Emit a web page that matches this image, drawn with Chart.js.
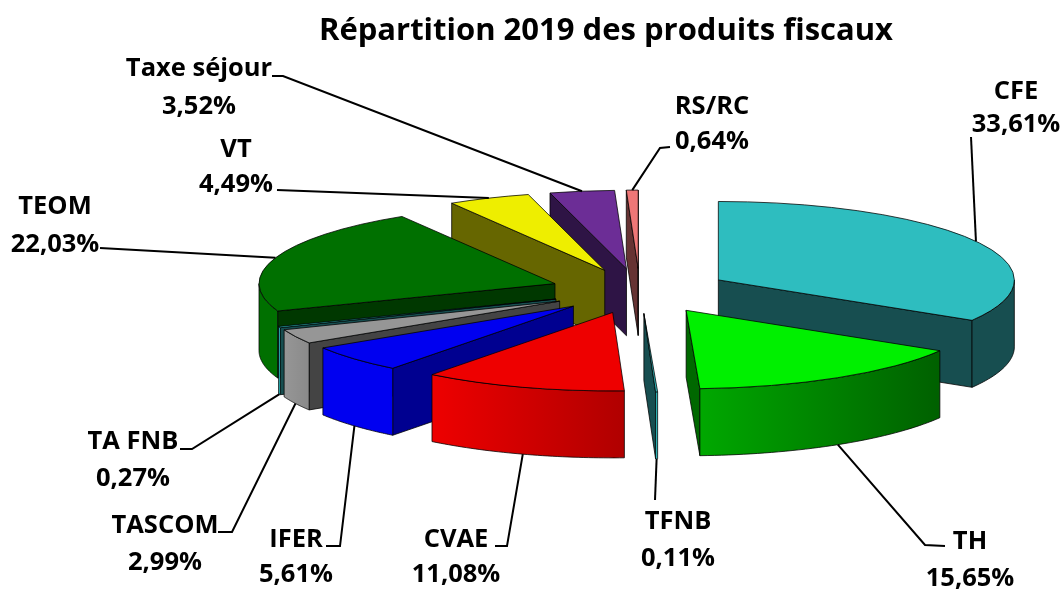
<!DOCTYPE html>
<html><head><meta charset="utf-8">
<style>html,body{margin:0;padding:0;background:#fff}#wrap{width:1064px;height:589px}</style>
<script src="https://cdn.jsdelivr.net/npm/chart.js@4/dist/chart.umd.min.js"></script>
</head><body><div id="wrap"><canvas id="c" width="1064" height="589"></canvas></div>
<script>
const categories = ['CFE','TH','TFNB','CVAE','IFER','TASCOM','TA FNB','TEOM','VT','Taxe séjour','RS/RC'];
const shares = [33.61,15.65,0.11,11.08,5.61,2.99,0.27,22.03,4.49,3.52,0.64];
const topColors = ['#2EBDBF','#00F000','#2EBDBF','#EE0000','#0000F0','#969696','#2EBDBF','#007000','#EEEE00','#6C2D96','#EE7777'];
const wallColors = ['#174E50','#006800','#174E50','#B00000','#000090','#444444','#174E50','#003800','#666600','#2E1445','#663333'];
const rimFrom = ['#174E50','#00A800','#2EBDBF','#EE0000','#0000F0','#969696','#2EBDBF','#007000','#666600','#2E1445','#663333'];
const rimTo   = ['#174E50','#006000','#2EBDBF','#B00000','#0000F0','#8A8A8A','#2EBDBF','#007000','#666600','#2E1445','#663333'];
const paintOrder = [10,9,8,7,6,5,4,0,1,2,3];
const labelPos = [[1016,99,132],[970,549,586],[678,529,566],[456,547,582],[296,547,582],[165,533,570],[133,449,486],[55,214,252],[236,157,192],[199,76,114],[712,114,149]];
const elbows = [[[971,137]],[[925,545],[945,546]],[[655,500]],[[507,546],[495,546]],[[340,546],[326,546]],[[232,532],[218,532]],[[192,449],[180,449]],[[100,248]],[[277,190]],[[283,76],[272,76]],[[660,148],[670,147]]];

const view = {cx:640, cy:291, k:0.265, kOffset:0.25, explode:90, depth:67};
const FONT = '"Open Sans", Lato, sans-serif';

const pie3d = {
  id:'pie3d',
  beforeDatasetDraw(chart,args){
    const ctx = chart.ctx, arcs = chart.getDatasetMeta(args.index).data;
    const {cx,cy,k,kOffset,explode,depth} = view;
    const geo = arcs.map(a=>{
      const mid=(a.startAngle+a.endAngle)/2;
      const ox=cx+Math.cos(mid)*explode, oy=cy+kOffset*Math.sin(mid)*explode;
      return {a,mid,ox,oy,R:a.outerRadius,
        pt:t=>[ox+a.outerRadius*Math.cos(t), oy+k*a.outerRadius*Math.sin(t)]};
    });
    ctx.save();
    ctx.lineJoin='round';
    ctx.strokeStyle='rgba(0,0,0,0.85)';
    ctx.lineWidth=0.9;
    const quad=(p,q,fill)=>{
      ctx.beginPath();
      ctx.moveTo(p[0],p[1]);ctx.lineTo(q[0],q[1]);
      ctx.lineTo(q[0],q[1]+depth);ctx.lineTo(p[0],p[1]+depth);ctx.closePath();
      ctx.fillStyle=fill;ctx.fill();ctx.stroke();
    };
    paintOrder.forEach(i=>{
      const g=geo[i],a=g.a,o=[g.ox,g.oy];
      if(Math.cos(a.startAngle)<0) quad(o,g.pt(a.startAngle),wallColors[i]);
      if(Math.cos(a.endAngle)>0) quad(o,g.pt(a.endAngle),wallColors[i]);
      const s=Math.max(a.startAngle,0),e=Math.min(a.endAngle,Math.PI);
      if(e>s){
        const p0=g.pt(s),p1=g.pt(e);
        const grad=ctx.createLinearGradient(Math.min(p0[0],p1[0]),0,Math.max(p0[0],p1[0]),0);
        grad.addColorStop(0,rimFrom[i]);grad.addColorStop(1,rimTo[i]);
        ctx.beginPath();
        ctx.moveTo(p0[0],p0[1]);
        const steps=40;
        for(let j=1;j<=steps;j++){const p=g.pt(s+(e-s)*j/steps);ctx.lineTo(p[0],p[1]);}
        for(let j=steps;j>=0;j--){const p=g.pt(s+(e-s)*j/steps);ctx.lineTo(p[0],p[1]+depth);}
        ctx.closePath();ctx.fillStyle=grad;ctx.fill();ctx.stroke();
      }
      // top face: the library's own arc element under the projection
      ctx.save();
      ctx.translate(g.ox,g.oy);ctx.scale(1,k);ctx.translate(-a.x,-a.y);
      a.draw(ctx);
      ctx.beginPath();
      ctx.moveTo(a.x,a.y);ctx.arc(a.x,a.y,g.R,a.startAngle,a.endAngle);ctx.closePath();
      ctx.restore();
      ctx.stroke();
    });
    // leader lines and labels
    ctx.strokeStyle='#000';ctx.lineWidth=2;ctx.lineJoin='miter';
    geo.forEach((g,i)=>{
      const p=g.pt(g.mid);
      const y0=Math.sin(g.mid)>0.1?p[1]+depth:p[1];
      ctx.beginPath();ctx.moveTo(p[0],y0);
      elbows[i].forEach(q=>ctx.lineTo(q[0],q[1]));
      ctx.stroke();
    });
    ctx.fillStyle='#000';ctx.textAlign='center';ctx.textBaseline='alphabetic';
    ctx.font='bold 25.5px '+FONT;
    categories.forEach((c,i)=>{
      const [x,y1,y2]=labelPos[i];
      ctx.fillText(c,x,y1);
      ctx.fillText(shares[i].toFixed(2).replace('.',',')+'%',x,y2);
    });
    ctx.restore();
    return false;
  }
};

new Chart(document.getElementById('c'),{
  type:'pie',
  data:{labels:categories,datasets:[{data:shares,backgroundColor:topColors,borderWidth:0}]},
  options:{
    responsive:false,animation:false,radius:296,
    layout:{padding:{left:148}},
    plugins:{
      legend:{display:false},tooltip:{enabled:false},
      title:{display:true,text:'Répartition 2019 des produits fiscaux',color:'#000',
        font:{family:FONT,size:31,weight:'bold',lineHeight:1.2},padding:{top:13,bottom:4}}
    }
  },
  plugins:[pie3d]
});
</script></body></html>
